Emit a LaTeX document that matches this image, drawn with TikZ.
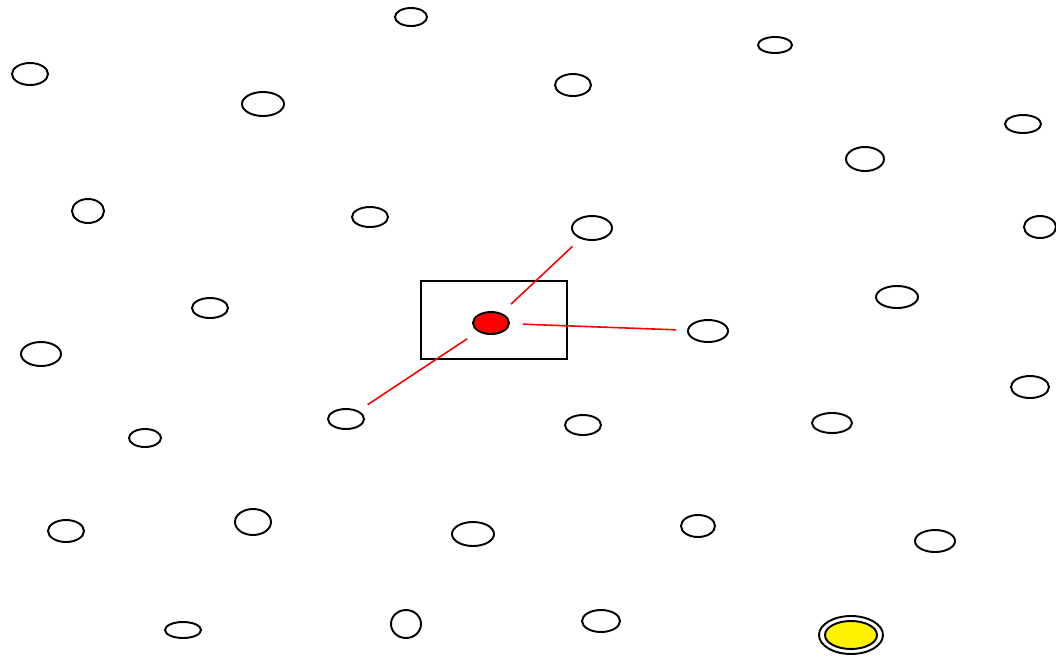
\documentclass[tikz,border=0pt]{standalone}
\usepackage{tikz}
\usetikzlibrary{shapes.geometric}

\begin{document}
\begin{tikzpicture}[x=0.02cm, y=-0.02cm,
    node/.style={ellipse, draw, line width=1.1pt, inner sep=0pt},
    link/.style={red, line width=0.9pt, shorten <=0.26cm, shorten >=0.22cm}]
                \useasboundingbox (0,0) rectangle (1056,657);

                % plain nodes: x / y / width / height
                \foreach \x/\y/\w/\h [count=\i] in {
                    411/17/32/18, 775/45/34/16, 30/74/36/22, 573/85/36/22,
                    263/104/42/24, 1023/124/36/18, 865/159/38/24, 88/211/32/24,
                    370/217/36/20, 592/228/40/24, 1040/227/32/22, 897/297/42/22,
                    210/308/36/20, 708/331/40/22, 41/354/40/24, 1030/387/38/22,
                    346/419/36/20, 583/425/36/20, 832/423/40/20, 145/438/32/18,
                    66/531/36/22, 253/522/36/26, 473/534/42/24, 698/526/34/22,
                    935/541/40/22, 183/630/36/16, 406/624/30/28, 601/621/38/22} {
                  \node[node, minimum width=\w*0.02cm, minimum height=\h*0.02cm] at (\x,\y) (n\i) {};
                }

                % cell box and red node
                \draw[line width=1.1pt] (421,281) rectangle (567,359);
                \node[node, fill=red, minimum width=36*0.02cm, minimum height=22*0.02cm] at (491,323) (hub) {};

                % yellow node
                \node[node, minimum width=64*0.02cm, minimum height=38*0.02cm] at (851,635) (sinkring) {};
                \node[node, fill=yellow, minimum width=52*0.02cm, minimum height=28*0.02cm] at (851,635) (sink) {};

                \draw[link] (hub) -- (n10);
                \draw[link] (hub) -- (n14);
                \draw[link] (hub) -- (n17);
\end{tikzpicture}
\end{document}
